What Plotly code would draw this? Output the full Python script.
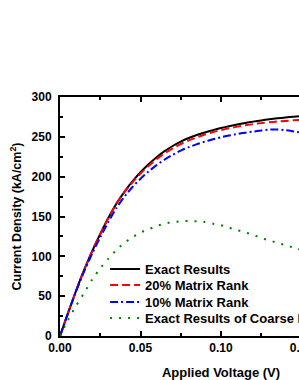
import plotly.graph_objects as go

voltage = [0.0, 0.005, 0.01, 0.015, 0.02, 0.025, 0.03, 0.035, 0.04, 0.045, 0.05,
           0.055, 0.06, 0.065, 0.07, 0.075, 0.08, 0.085, 0.09, 0.095, 0.1,
           0.105, 0.11, 0.115, 0.12, 0.125, 0.13, 0.135, 0.14, 0.145, 0.15]
exact = [0, 29, 57, 83, 106.5, 128, 148, 166, 181, 194, 205.5,
         215.5, 224.5, 232, 238.5, 244, 248.5, 252.3, 255.5, 258.4, 261,
         263.4, 265.5, 267.4, 269.1, 270.6, 272, 273.2, 274.3, 275.3, 276.2]
rank20 = [0, 29, 57, 83, 106.5, 128, 148, 166, 180.5, 193, 204,
          213.5, 222, 229.2, 235.5, 241, 245.5, 249.5, 253, 256, 258.5,
          260.8, 262.8, 264.6, 266, 267.2, 268.2, 269.2, 270, 270.8, 271.5]
rank10 = [0, 28.5, 56, 81, 103.5, 124, 143, 160.5, 175, 187, 197.5,
          206.5, 214.5, 221.5, 227.5, 232.8, 237, 240.8, 244, 246.9, 249.5,
          251.7, 253.5, 255.2, 256.6, 257.9, 259, 259.2, 258.3, 256.8, 255.2]
coarse = [0, 20, 38, 54, 71, 85, 97, 108, 117, 124, 130,
          134, 138, 141, 143, 144, 144.5, 144, 143, 141, 139,
          136, 133, 130, 127, 123, 120, 117, 114, 111, 108]

names = ["Exact Results", "20% Matrix Rank", "10% Matrix Rank",
         "Exact Results of Coarse Mesh"]
colors = ["#000000", "#FF0000", "#0000FF", "#008000"]
dashes = ["solid", "8px,4px", "8px,3px,2px,3px", "2px,7px"]
series = [exact, rank20, rank10, coarse]
legend_ids = ["legend", "legend2", "legend3", "legend4"]
legend_rows = [0.280, 0.213, 0.142, 0.075]

FONT = "Liberation Sans, Arial, sans-serif"

fig = go.Figure()
for nm, col, ds, ys, lg in zip(names, colors, dashes, series, legend_ids):
    fig.add_trace(go.Scatter(x=voltage, y=ys, mode="lines", name=nm, legend=lg,
                             line=dict(color=col, width=2, dash=ds, shape="spline",
                                       smoothing=0.6)))

axis_common = dict(
    showline=True, linewidth=2, linecolor="black", mirror="ticks",
    ticks="inside", ticklen=5, tickwidth=1.5, tickcolor="black",
    showgrid=False, zeroline=False, automargin=False,
    tickfont=dict(family=FONT, size=12, color="black", weight="bold"),
)

legend_font = dict(family=FONT, size=13, color="black", weight="bold")
legend_layout = {}
for lg, yy in zip(legend_ids, legend_rows):
    legend_layout[lg] = dict(x=0.14, y=yy, xanchor="left", yanchor="middle",
                             bgcolor="rgba(0,0,0,0)", borderwidth=0,
                             font=legend_font, itemwidth=30)

fig.update_layout(
    width=400, height=380,
    margin=dict(l=60, r=18, t=97, b=44),
    paper_bgcolor="white", plot_bgcolor="white",
    showlegend=True,
    xaxis=dict(range=[0, 0.2], dtick=0.05, tickformat=".2f", ticklabelstandoff=0,
               minor=dict(ticks="inside", ticklen=3, dtick=0.025, tickcolor="black"),
               title=dict(text="Applied Voltage (V)", standoff=18,
                          font=dict(family=FONT, size=13, color="black", weight="bold")),
               **axis_common),
    yaxis=dict(range=[0, 300], dtick=50, ticklabelstandoff=4,
               minor=dict(ticks="inside", ticklen=3, dtick=25, tickcolor="black"),
               title=dict(text="Current Density (kA/cm<sup>2</sup>)", standoff=7,
                          font=dict(family=FONT, size=12.5, color="black", weight="bold")),
               **axis_common),
    **legend_layout,
)

fig.write_html("out.html", config={"displayModeBar": False},
               post_script="document.body.style.margin='0';document.body.style.overflow='hidden';")
